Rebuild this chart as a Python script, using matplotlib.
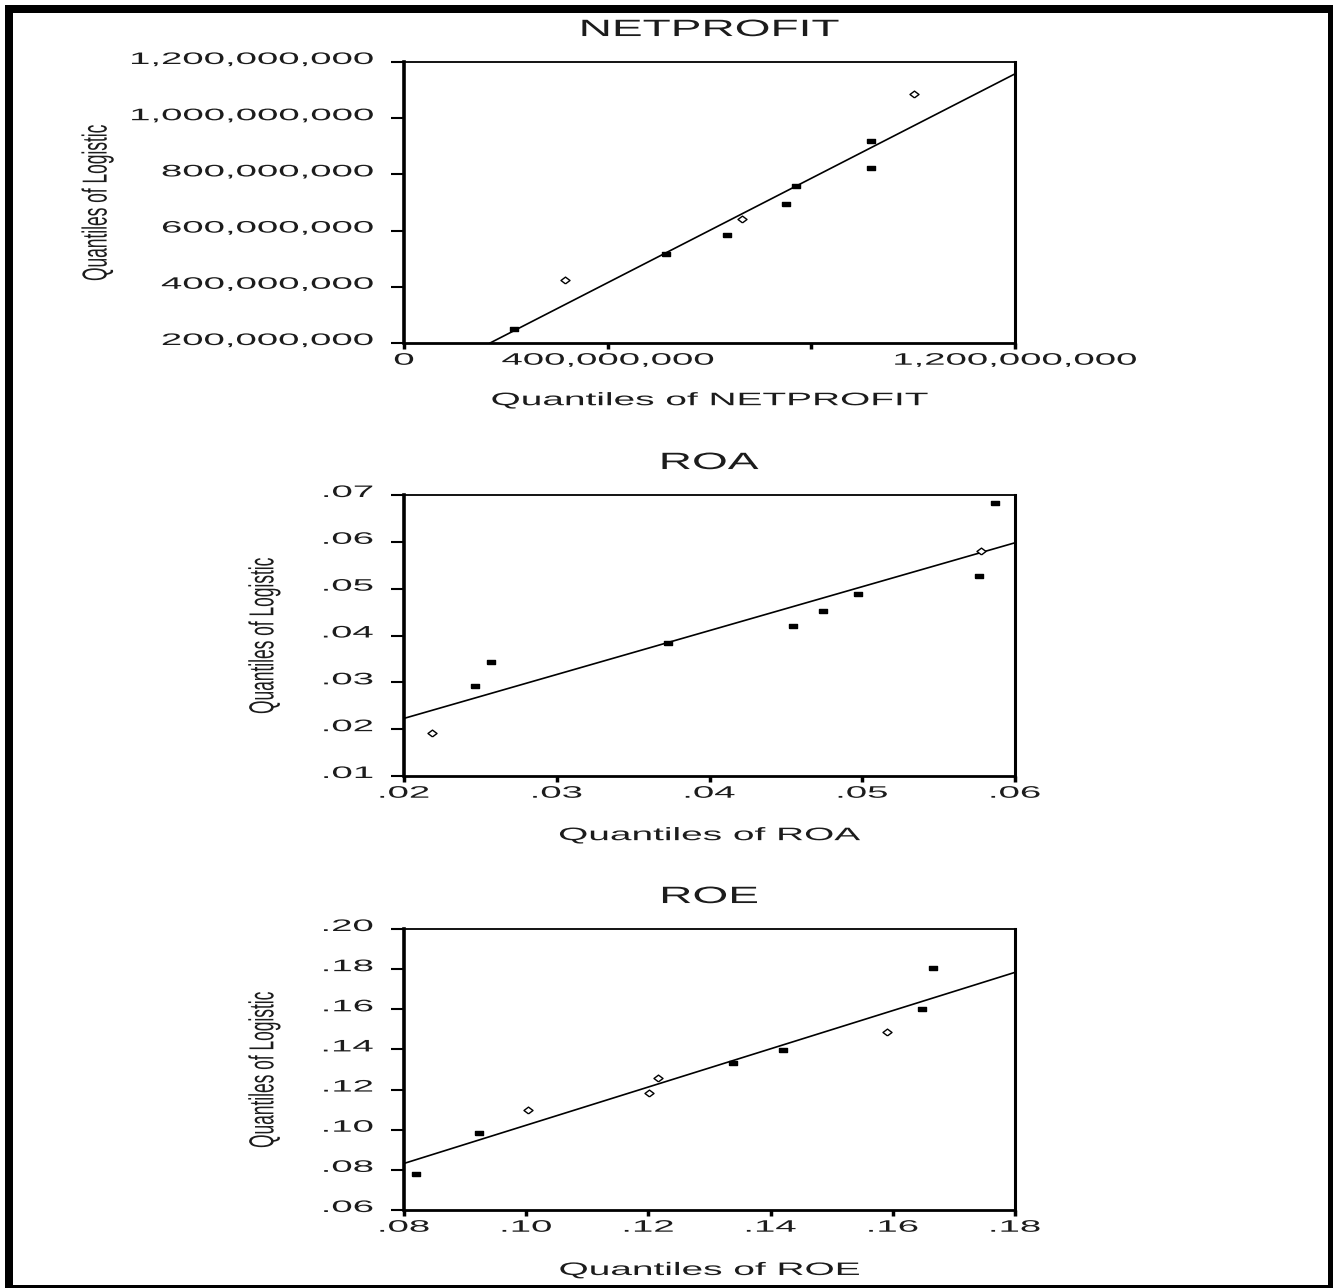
import matplotlib
matplotlib.use("Agg")
import matplotlib.pyplot as plt
from matplotlib.patheffects import AbstractPathEffect
from matplotlib.transforms import Affine2D
from matplotlib.patches import Rectangle

plt.rcParams['font.family'] = ['Liberation Sans', 'DejaVu Sans']

# ---------------- data ----------------
# NETPROFIT: empirical quantiles vs. logistic quantiles
netprofit_q = [216e6, 316e6, 514e6, 634e6, 663e6, 751e6, 769e6, 918e6, 918e6, 1002e6]
netprofit_logistic = [251e6, 423e6, 516e6, 583e6, 642e6, 696e6, 758e6, 824e6, 919e6, 1087e6]
netprofit_fit = (43e6, 0.929)          # intercept, slope of reference line
netprofit_xticks = [0, 4e8, 8e8, 1.2e9]
netprofit_xlabels = ['0', '400,000,000', '', '1,200,000,000']
netprofit_yticks = [2e8, 4e8, 6e8, 8e8, 1.0e9, 1.2e9]
netprofit_ylabels = ['200,000,000', '400,000,000', '600,000,000',
                     '800,000,000', '1,000,000,000', '1,200,000,000']

# ROA
roa_q = [.02185, .02464, .02568, .03727, .04547, .04742, .04969, .05766, .05779, .05870]
roa_logistic = [.0191, .0293, .0344, .0384, .0421, .0452, .0488, .0528, .0581, .0682]
roa_fit = (0.00355, 0.9375)
roa_xticks = [.02, .03, .04, .05, .06]
roa_xlabels = ['.02', '.03', '.04', '.05', '.06']
roa_yticks = [.01, .02, .03, .04, .05, .06, .07]
roa_ylabels = ['.01', '.02', '.03', '.04', '.05', '.06', '.07']

# ROE
roe_q = [.08195, .09224, .10025, .1201, .1215, .1338, .1420, .1590, .1647, .1665]
roe_logistic = [.0778, .0982, .1097, .1185, .1256, .1331, .1397, .1485, .1600, .1807]
roe_fit = (0.00704, 0.952)
roe_xticks = [.08, .10, .12, .14, .16, .18]
roe_xlabels = ['.08', '.10', '.12', '.14', '.16', '.18']
roe_yticks = [.06, .08, .10, .12, .14, .16, .18, .20]
roe_ylabels = ['.06', '.08', '.10', '.12', '.14', '.16', '.18', '.20']

# marker appearance: indices drawn as hollow diamonds
netprofit_hollow = [1, 4, 9]
roa_hollow = [0, 8]
roe_hollow = [2, 3, 4, 7]

TEXT = '#1c1c1c'
W, H = 1333, 1288


class Widen(AbstractPathEffect):
    """Draw text horizontally widened about a chosen edge, optionally nudged."""

    def __init__(self, factor, anchor='center', dy=0.0):
        super().__init__()
        self._factor = factor
        self._anchor = anchor
        self._dy = dy

    def draw_path(self, renderer, gc, tpath, affine, rgbFace=None):
        box = tpath.get_extents(affine)
        if self._anchor == 'left':
            ref = box.x0
        elif self._anchor == 'right':
            ref = box.x1
        else:
            ref = 0.5 * (box.x0 + box.x1)
        widen = (Affine2D().translate(-ref, 0).scale(self._factor, 1)
                 .translate(ref, self._dy))
        renderer.draw_path(gc, tpath, affine + widen, rgbFace)


fig = plt.figure(figsize=(W / 100, H / 100), dpi=100)
fig.patch.set_facecolor('white')

# axes boxes in pixels: (left, top, right, bottom)
boxes = [(404, 62, 1015, 343), (404, 495, 1015, 776), (404, 929, 1015, 1210)]

rect_marker = [(-1, -0.55), (1, -0.55), (1, 0.55), (-1, 0.55), (-1, -0.55)]
diamond_marker = [(0, -0.75), (1, 0), (0, 0.75), (-1, 0), (0, -0.75)]

panels = [
    dict(title='NETPROFIT', x=netprofit_q, y=netprofit_logistic, fit=netprofit_fit,
         xlim=(0, 1.2e9), ylim=(2e8, 1.2e9),
         xt=netprofit_xticks, xl=netprofit_xlabels, yt=netprofit_yticks, yl=netprofit_ylabels,
         xlabel='Quantiles of NETPROFIT', hollow=netprofit_hollow, ylab_x=-0.476, xlab_y=-0.175),
    dict(title='ROA', x=roa_q, y=roa_logistic, fit=roa_fit,
         xlim=(.02, .06), ylim=(.01, .07),
         xt=roa_xticks, xl=roa_xlabels, yt=roa_yticks, yl=roa_ylabels,
         xlabel='Quantiles of ROA', hollow=roa_hollow, ylab_x=-0.203, xlab_y=-0.182),
    dict(title='ROE', x=roe_q, y=roe_logistic, fit=roe_fit,
         xlim=(.08, .18), ylim=(.06, .20),
         xt=roe_xticks, xl=roe_xlabels, yt=roe_yticks, yl=roe_ylabels,
         xlabel='Quantiles of ROE', hollow=roe_hollow, ylab_x=-0.203, xlab_y=-0.185),
]

axes = []
for (l, t, r, b), p in zip(boxes, panels):
    ax = fig.add_axes([l / W, 1 - b / H, (r - l) / W, (b - t) / H])
    axes.append(ax)
    ax.set_xlim(*p['xlim'])
    ax.set_ylim(*p['ylim'])

    # reference line
    a, s = p['fit']
    ax.axline((0, a), slope=s, color='black', lw=1.2, zorder=2)

    # quantile points
    filled_x = [v for i, v in enumerate(p['x']) if i not in p['hollow']]
    filled_y = [v for i, v in enumerate(p['y']) if i not in p['hollow']]
    hollow_x = [p['x'][i] for i in p['hollow']]
    hollow_y = [p['y'][i] for i in p['hollow']]
    ax.plot(filled_x, filled_y, linestyle='none', marker=rect_marker, markersize=5.8,
            color='black', zorder=3)
    ax.plot(hollow_x, hollow_y, linestyle='none', marker=diamond_marker, markersize=6.5,
            markerfacecolor='white', markeredgecolor='black', markeredgewidth=1.0, zorder=3)

    ax.set_xticks(p['xt'], p['xl'])
    ax.set_yticks(p['yt'], p['yl'])
    ax.tick_params(axis='y', direction='out', length=9.4, width=1.5, pad=13,
                   labelsize=12, labelcolor=TEXT)
    ax.tick_params(axis='x', direction='out', length=4.5, width=2.5, pad=2.5,
                   labelsize=12, labelcolor=TEXT)

    ax.spines['left'].set_linewidth(2.6)
    ax.spines['right'].set_linewidth(2.2)
    ax.spines['bottom'].set_linewidth(2.0)
    ax.spines['top'].set_linewidth(1.3)

    ax.set_title(p['title'], fontsize=17, color=TEXT, pad=18.7)
    ax.set_xlabel(p['xlabel'], fontsize=13, color=TEXT)
    ax.xaxis.set_label_coords(0.5, p['xlab_y'])
    ax.set_ylabel('Quantiles of Logistic', fontsize=12.5, color=TEXT)
    ax.yaxis.set_label_coords(p['ylab_x'], 0.5)

# outer frame
lw_px = 8
fig.add_artist(Rectangle((9 / W, 1 - 1289 / H), (1332 - 9) / W, (1289 - 9) / H,
                         transform=fig.transFigure, fill=False, edgecolor='black',
                         linewidth=lw_px * 72 / 100, joinstyle='miter', clip_on=False))

fig.canvas.draw()
for ax in axes:
    for lbl in ax.get_yticklabels():
        lbl.set_path_effects([Widen(2.3, 'right', dy=4)])
    for lbl in ax.get_xticklabels():
        lbl.set_path_effects([Widen(2.3, 'center')])
    ax.title.set_path_effects([Widen(1.95, 'center')])
    ax.xaxis.label.set_path_effects([Widen(2.15, 'center')])
    ax.yaxis.label.set_path_effects([Widen(2.0, 'right')])

fig.savefig('out.png', dpi=100, facecolor='white')
